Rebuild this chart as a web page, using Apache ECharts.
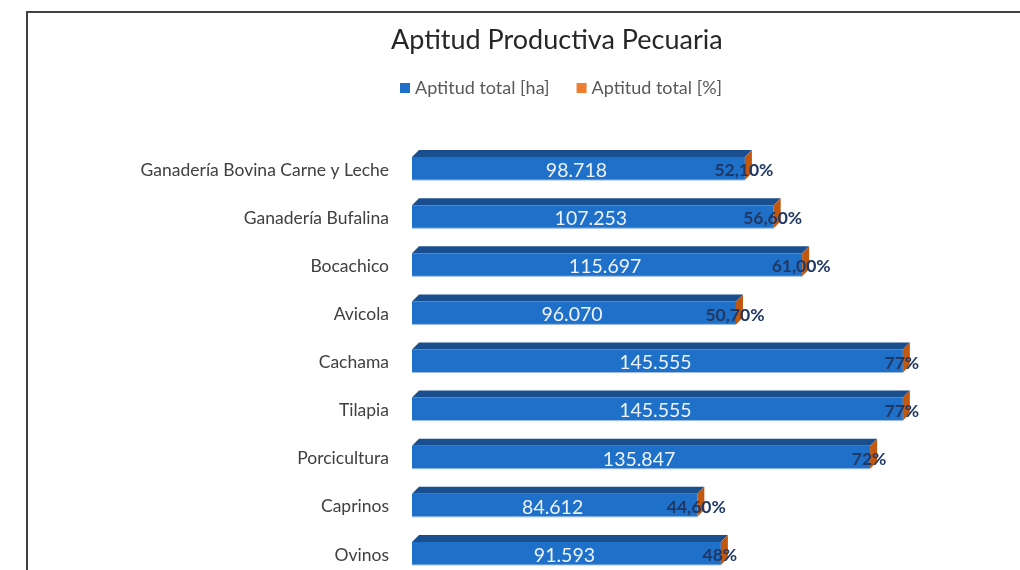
<!DOCTYPE html>
<html>
<head>
<meta charset="utf-8">
<script src="https://cdn.jsdelivr.net/npm/echarts@6/dist/echarts.min.js"></script>
<style>
  html, body { margin: 0; padding: 0; background: #ffffff; }
  #chart { width: 1020px; height: 570px; }
</style>
</head>
<body>
<div id="chart"></div>
<script>
// Categories (top to bottom)
const categories = [
  'Ganadería Bovina Carne y Leche',
  'Ganadería Bufalina',
  'Bocachico',
  'Avicola',
  'Cachama',
  'Tilapia',
  'Porcicultura',
  'Caprinos',
  'Ovinos'
];
// Aptitud total [ha]
const aptitudHa = [98718, 107253, 115697, 96070, 145555, 145555, 135847, 84612, 91593];
// Aptitud total [%], as written on the labels
const aptitudPct = ['52,10', '56,60', '61,00', '50,70', '77', '77', '72', '44,60', '48'];

const FONT = 'Lato, "Open Sans", sans-serif';
const BLUE = '#1f70c9';
const BLUE_TOP = '#1a4f8f';
const ORANGE = '#ed7d31';
const ORANGE_SIDE = '#c2570f';
const DEPTH = 7;

function fmtHa(v) {
  return String(v).replace(/\B(?=(\d{3})+(?!\d))/g, '.');
}
function pctValue(s) {
  return parseFloat(s.replace(',', '.'));
}

// Front and top faces of each 3D bar
function renderHa(params, api) {
  const idx = api.value(1);
  const end = api.coord([api.value(0), idx]);
  const start = api.coord([0, idx]);
  const x0 = start[0], x1 = end[0], y = end[1];
  const top = y - 13, h = 23;
  return {
    type: 'group',
    children: [
      { type: 'polygon', shape: { points: [[x0, top], [x0 + DEPTH, top - DEPTH], [x1 + DEPTH, top - DEPTH], [x1, top]] },
        style: { fill: BLUE_TOP } },
      { type: 'rect', shape: { x: x0, y: top, width: x1 - x0, height: h }, style: { fill: BLUE } },
      { type: 'line', shape: { x1: x0, y1: top + h, x2: x1, y2: top + h }, style: { stroke: '#9fbde3', lineWidth: 1 } },
      { type: 'text', style: { text: fmtHa(api.value(0)), x: (x0 + x1) / 2 - 2, y: top + h / 2 + 2,
        align: 'center', verticalAlign: 'middle', fill: '#eef3fb', font: '19.5px ' + FONT } }
    ]
  };
}

// End face of each bar, stacked on the hectare value
function renderPct(params, api) {
  const i = params.dataIndex;
  const idx = api.value(1);
  const label = aptitudPct[i];
  const p = pctValue(label);
  const end = api.coord([api.value(0) + p / 100, idx]);
  const x1 = end[0], y = end[1];
  const top = y - 13, h = 23;
  return {
    type: 'group',
    children: [
      { type: 'polygon', shape: { points: [[x1, top], [x1 + DEPTH, top - DEPTH], [x1 + DEPTH, top + h - DEPTH], [x1, top + h]] },
        style: { fill: ORANGE_SIDE } },
      { type: 'text', style: { text: label + '%', x: x1 - 1, y: top + h / 2 + 2,
        align: 'center', verticalAlign: 'middle', fill: '#1f3864', font: 'bold 17.5px ' + FONT } }
    ]
  };
}

const chart = echarts.init(document.getElementById('chart'), null, { renderer: 'canvas' });
chart.setOption({
  backgroundColor: '#ffffff',
  animation: false,
  title: {
    text: 'Aptitud Productiva Pecuaria',
    left: 386, top: 22,
    textStyle: { fontFamily: FONT, fontSize: 27, fontWeight: 'normal', color: '#262626' }
  },
  legend: {
    left: 400, top: 79, padding: 0,
    icon: 'rect', itemWidth: 10, itemHeight: 10, itemGap: 27,
    textStyle: { fontFamily: FONT, fontSize: 18, color: '#595959' },
    data: ['Aptitud total [ha]', 'Aptitud total [%]']
  },
  graphic: [{
    type: 'rect', silent: true, z: -1,
    shape: { x: 27, y: 12, width: 1100, height: 700 },
    style: { fill: 'none', stroke: '#404040', lineWidth: 2 }
  }],
  grid: { left: 412, top: 146, width: 607, height: 433, outerBoundsMode: 'none', containLabel: false },
  xAxis: {
    type: 'value', min: 0, max: 180000, show: false
  },
  yAxis: {
    type: 'category', inverse: true, data: categories,
    axisLine: { show: false }, axisTick: { show: false }, splitLine: { show: false },
    axisLabel: { fontFamily: FONT, fontSize: 17.5, color: '#404040', margin: 23, padding: [5, 0, 0, 0] }
  },
  series: [
    {
      name: 'Aptitud total [ha]', type: 'custom', renderItem: renderHa,
      itemStyle: { color: BLUE },
      encode: { x: 0, y: 1 },
      data: aptitudHa.map((v, i) => [v, i])
    },
    {
      name: 'Aptitud total [%]', type: 'custom', renderItem: renderPct,
      itemStyle: { color: ORANGE },
      encode: { x: 0, y: 1 },
      data: aptitudHa.map((v, i) => [v, i])
    }
  ]
});
</script>
</body>
</html>
